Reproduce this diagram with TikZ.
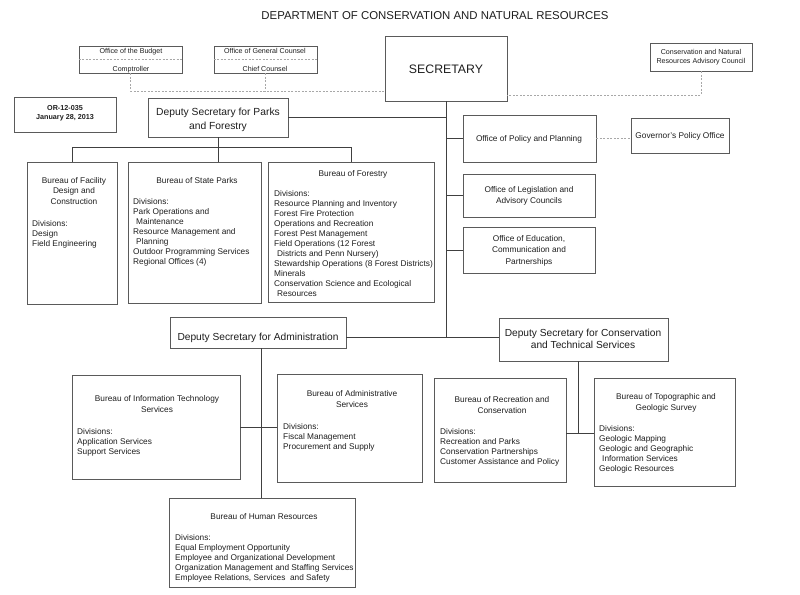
\documentclass[tikz,border=0pt]{standalone}
\usepackage{fontspec}
\setmainfont{Liberation Sans}
\usetikzlibrary{fit,calc}
\definecolor{boxc}{HTML}{5A5A5A}
\definecolor{linec}{HTML}{404040}
\definecolor{dashc}{HTML}{A8A8A8}
\definecolor{txtc}{HTML}{1E1E1E}
\begin{document}
\begin{tikzpicture}[x=1pt,y=-1pt,
  box/.style={draw=boxc, line width=0.9pt, inner sep=0pt},
  conn/.style={draw=linec, line width=0.9pt},
  dconn/.style={draw=dashc, line width=0.7pt, dash pattern=on 2pt off 1.5pt},
  bodytxt/.style={font=\fontsize{8.3}{10}\selectfont, text=txtc, inner sep=0pt, align=left, anchor=north west},
  ttltxt/.style={font=\fontsize{8.3}{11}\selectfont, text=txtc, inner sep=0pt, align=center, anchor=north},
  smalltxt/.style={font=\fontsize{7.1}{9}\selectfont, text=txtc, inner sep=0pt, align=center, anchor=north},
  deptxt/.style={font=\fontsize{10.3}{14}\selectfont, text=txtc, inner sep=0pt, align=center, anchor=north}]
\fill[white] (0,0) rectangle (800,594);
\useasboundingbox (0,0) rectangle (800,594);

% title
\node[font=\fontsize{11.4}{13}\selectfont, text=txtc, inner sep=0pt] (title) at (435,16) {DEPARTMENT OF CONSERVATION AND NATURAL RESOURCES};

% top boxes
\node[box, fit={(79,46)(182,73)}] (bud) {};
\node[box, fit={(214,46)(317,73)}] (gc) {};
\node[box, fit={(650,43)(752,71)}] (adv) {};
\node[box, fit={(385,36)(507,101)}] (sec) {};
\node[box, fit={(14,97)(116,132)}] (orb) {};
\node[box, fit={(148,98)(288,137)}] (dpf) {};
\draw[dconn] (bud.west) -- (bud.east);
\draw[dconn] (gc.west) -- (gc.east);

\node[smalltxt] (budt1) at (131,48.3) {Office of the Budget};
\node[smalltxt] (budt2) at (131,66.3) {Comptroller};
\node[smalltxt] (gct1) at (265,48.3) {Office of General Counsel};
\node[smalltxt] (gct2) at (265,66.3) {Chief Counsel};
\node[smalltxt] (advt) at (701,49.3) {Conservation and Natural\\Resources Advisory Council};
\node[smalltxt, font=\fontsize{7.2}{9}\selectfont\bfseries] (ort) at (65,105.3) {OR-12-035\\January 28, 2013};
\node[font=\fontsize{12.3}{14}\selectfont, text=txtc, inner sep=0pt] (sect) at (446,69) {SECRETARY};
\node[deptxt] (dpft) at (218,108.1) {Deputy Secretary for Parks\\and Forestry};

% offices
\node[box, fit={(463,115)(596,162)}] (opp) {};
\node[box, fit={(631,118)(729,153)}] (gov) {};
\node[box, fit={(463,174)(595,217)}] (leg) {};
\node[box, fit={(463,227)(595,273)}] (edu) {};
\node[ttltxt] (oppt) at (529,134.8) {Office of Policy and Planning};
\node[ttltxt] (govt) at (680,131.8) {Governor's Policy Office};
\node[ttltxt, font=\fontsize{8.3}{11.3}\selectfont] (legt) at (529,185.8) {Office of Legislation and\\Advisory Councils};
\node[ttltxt, font=\fontsize{8.3}{11.5}\selectfont] (edut) at (529,234.8) {Office of Education,\\Communication and\\Partnerships};

% parks & forestry bureaus
\node[box, fit={(27,162)(117,304)}] (fac) {};
\node[box, fit={(128,162)(261,303)}] (sp) {};
\node[box, fit={(268,162)(434,302)}] (frs) {};
\node[ttltxt, font=\fontsize{8.3}{10.6}\selectfont] (fact) at (74,176.8) {Bureau of Facility\\Design and\\Construction};
\node[bodytxt] (facd) at (32,219.8) {Divisions:\\Design\\Field Engineering};
\node[ttltxt] (spt) at (197,176.8) {Bureau of State Parks};
\node[bodytxt] (spd) at (133,197.8) {Divisions:\\Park Operations and\\\hspace*{3pt}Maintenance\\Resource Management and\\\hspace*{3pt}Planning\\Outdoor Programming Services\\Regional Offices (4)};
\node[ttltxt] (frst) at (353,169.8) {Bureau of Forestry};
\node[bodytxt] (frsd) at (274,189.8) {Divisions:\\Resource Planning and Inventory\\Forest Fire Protection\\Operations and Recreation\\Forest Pest Management\\Field Operations (12 Forest\\\hspace*{3pt}Districts and Penn Nursery)\\Stewardship Operations (8 Forest Districts)\\Minerals\\Conservation Science and Ecological\\\hspace*{3pt}Resources};

% deputies
\node[box, fit={(170,317)(346,348)}] (adm) {};
\node[box, fit={(499,318)(668,361)}] (cts) {};
\node[deptxt, font=\fontsize{10.2}{12}\selectfont] (admt) at (258,333.1) {Deputy Secretary for Administration};
\node[deptxt, font=\fontsize{10.2}{12}\selectfont] (ctst) at (583,329.1) {Deputy Secretary for Conservation\\and Technical Services};

% administration bureaus
\node[box, fit={(72,375)(240,479)}] (it) {};
\node[box, fit={(277,374)(422,482)}] (as) {};
\node[box, fit={(169,498)(355,587)}] (hr) {};
\node[ttltxt] (itt) at (157,394.8) {Bureau of Information Technology\\Services};
\node[bodytxt] (itd) at (77,427.8) {Divisions:\\Application Services\\Support Services};
\node[ttltxt] (ast) at (352,389.8) {Bureau of Administrative\\Services};
\node[bodytxt] (asd) at (283,422.8) {Divisions:\\Fiscal Management\\Procurement and Supply};
\node[ttltxt] (hrt) at (264,512.8) {Bureau of Human Resources};
\node[bodytxt] (hrd) at (175,533.8) {Divisions:\\Equal Employment Opportunity\\Employee and Organizational Development\\Organization Management and Staffing Services\\Employee Relations, Services\ \ and Safety};

% conservation bureaus
\node[box, fit={(434,378)(566,482)}] (rec) {};
\node[box, fit={(594,378)(735,486)}] (topo) {};
\node[ttltxt] (rect) at (502,395.8) {Bureau of Recreation and\\Conservation};
\node[bodytxt] (recd) at (440,427.8) {Divisions:\\Recreation and Parks\\Conservation Partnerships\\Customer Assistance and Policy};
\node[ttltxt] (topot) at (666,392.8) {Bureau of Topographic and\\Geologic Survey};
\node[bodytxt] (topod) at (599,424.8) {Divisions:\\Geologic Mapping\\Geologic and Geographic\\\hspace*{3pt}Information Services\\Geologic Resources};

% helper coordinates
\coordinate (dl) at (0,91);
\coordinate (dr) at (0,95);
\coordinate (hb) at (0,147);
\coordinate (hl) at (0,337);
\coordinate (hc) at (0,433);

% dashed connectors
\draw[dconn] (bud.south) -- (bud.south |- dl) -- (dl -| sec.west);
\draw[dconn] (gc.south) -- (gc.south |- dl);
\draw[dconn] (adv.south) |- (dr -| sec.east);
\draw[dconn] (opp.east) -- (opp.east -| gov.west);

% solid connectors
\draw[conn] (sec.south) -- (sec.south |- hl);
\draw[conn] (dpf.east) -- (dpf.east -| sec.south);
\draw[conn] (opp.west) -- (opp.west -| sec.south);
\draw[conn] (leg.west) -- (leg.west -| sec.south);
\draw[conn] (edu.west) -- (edu.west -| sec.south);
\draw[conn] (dpf.south) -- (dpf.south |- sp.north);
\draw[conn] (fac.north) -- (fac.north |- hb) -- (frs.north |- hb) -- (frs.north);
\draw[conn] (adm.east |- hl) -- (cts.west |- hl);
\draw[conn] ($(adm.south)+(3,0)$) -- ($(adm.south |- hr.north)+(3,0)$);
\draw[conn] (it.east) -- (it.east -| as.west);
\draw[conn] ($(cts.south)+(-5,0)$) -- ($(cts.south |- hc)+(-5,0)$);
\draw[conn] (rec.east |- hc) -- (topo.west |- hc);
\end{tikzpicture}
\end{document}
